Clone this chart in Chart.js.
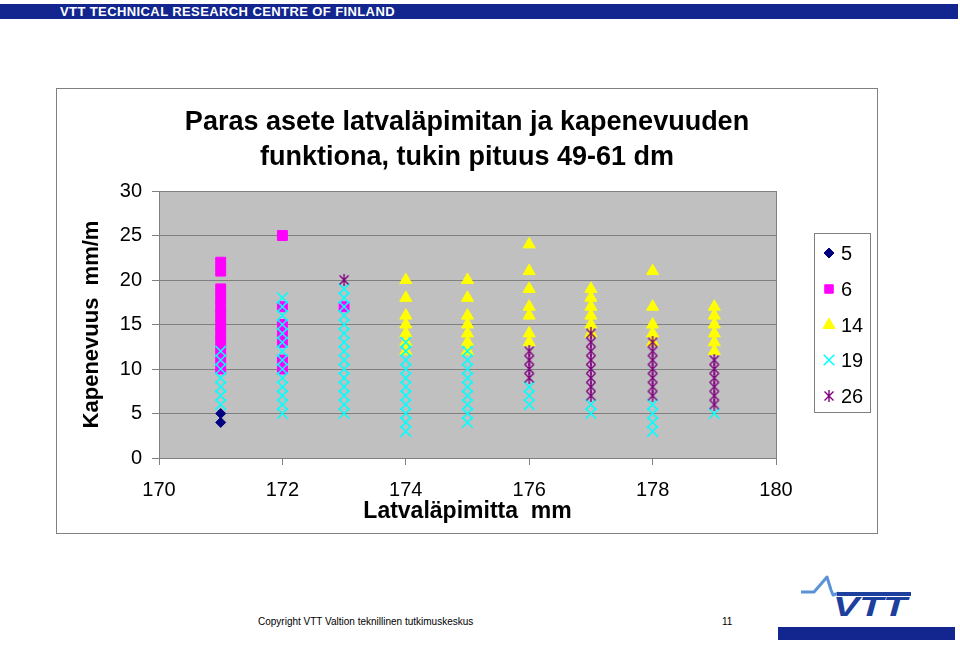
<!DOCTYPE html>
<html><head><meta charset="utf-8">
<script src="https://cdn.jsdelivr.net/npm/chart.js@4.4.1/dist/chart.umd.min.js"></script>
<style>
html,body{margin:0;padding:0;background:#fff;width:960px;height:645px;overflow:hidden;font-family:"Liberation Sans",Arial,sans-serif;}
#topbar{position:absolute;left:0;top:4px;width:958px;height:15px;background:#13268f;}
#topbar span{position:absolute;left:60px;top:0;line-height:15px;color:#fff;font-weight:bold;font-size:13px;letter-spacing:0.4px;white-space:nowrap;}
#box{position:absolute;left:56px;top:88px;width:820px;height:444px;border:1px solid #808080;background:#fff;}
#box canvas{position:absolute;left:0;top:0;}
#copy{position:absolute;left:258px;top:616px;font-size:10px;color:#000;white-space:nowrap;}
#pg{position:absolute;left:722px;top:616px;font-size:10px;color:#000;}
#botbar{position:absolute;left:778px;top:627px;width:177px;height:13px;background:#13268f;}
#logo{position:absolute;left:795px;top:570px;}
</style></head>
<body>
<div id="topbar"><span>VTT TECHNICAL RESEARCH CENTRE OF FINLAND</span></div>
<div id="box"><canvas id="c" width="820" height="444"></canvas></div>
<svg id="logo" width="130" height="50" viewBox="0 0 130 50">
  <polyline points="6,22 19,22 26,14 32,7 36,20 38,25 44,23" fill="none" stroke="#5b93d6" stroke-width="3" stroke-linejoin="round"/>
  <line x1="42" y1="24" x2="116" y2="24" stroke="#1d3f9e" stroke-width="4"/>
  <text x="38" y="46" font-family="Liberation Sans, Arial" font-weight="bold" font-style="italic" font-size="27" fill="#1d3f9e" textLength="74" lengthAdjust="spacingAndGlyphs">VTT</text>
</svg>
<div id="copy">Copyright VTT Valtion teknillinen tutkimuskeskus</div>
<div id="pg">11</div>
<div id="botbar"></div>
<script>
// ---- data ----
const seriesLabels = ['5', '6', '14', '19', '26'];
const titleLines = ['Paras asete latvaläpimitan ja kapenevuuden', 'funktiona, tukin pituus 49-61 dm'];
const xTitle = 'Latvaläpimitta  mm';
const yTitle = 'Kapenevuus  mm/m';

const s5 = [[171,5],[171,4]];
const s6 = [[171,22],[171,21],[171,19],[171,18],[171,17],[171,16],[171,15],[171,14],[171,13],[171,12],[171,11],[171,10],
            [172,25],[172,17],[172,15],[172,14],[172,13],[172,11],[172,10],
            [173,17]];
const s14 = [[174,20],[174,18],[174,16],[174,15],[174,14],[174,13],[174,12],
             [175,20],[175,18],[175,16],[175,15],[175,14],[175,13],[175,12],
             [176,24],[176,21],[176,19],[176,17],[176,16],[176,14],[176,13],
             [177,19],[177,18],[177,17],[177,16],[177,15],[177,14],
             [178,21],[178,17],[178,15],[178,14],[178,13],
             [179,17],[179,16],[179,15],[179,14],[179,13],[179,12]];
const s19 = [[171,12],[171,11],[171,10],[171,9],[171,8],[171,7],[171,6],
             [172,18],[172,17],[172,16],[172,15],[172,14],[172,13],[172,12],[172,11],[172,10],[172,9],[172,8],[172,7],[172,6],[172,5],
             [173,19],[173,18],[173,17],[173,16],[173,15],[173,14],[173,13],[173,12],[173,11],[173,10],[173,9],[173,8],[173,7],[173,6],[173,5],
             [174,13],[174,12],[174,11],[174,10],[174,9],[174,8],[174,7],[174,6],[174,5],[174,4],[174,3],
             [175,12],[175,11],[175,10],[175,9],[175,8],[175,7],[175,6],[175,5],[175,4],
             [176,8],[176,7],[176,6],
             [177,6],[177,5],
             [178,6],[178,5],[178,4],[178,3],
             [179,5]];
const s26 = [[173,20],
             [176,12],[176,11],[176,10],[176,9],
             [177,14],[177,13],[177,12],[177,11],[177,10],[177,9],[177,8],[177,7],
             [178,13],[178,12],[178,11],[178,10],[178,9],[178,8],[178,7],
             [179,11],[179,10],[179,9],[179,8],[179,7],[179,6]];
const xMin = 170, xMax = 180, xStep = 2;
const yMin = 0, yMax = 30, yStep = 5;

// ---- rendering ----
const FONT = "'Liberation Sans', Arial, sans-serif";
function pts(a){ return a.map(p => ({x: p[0], y: p[1]})); }
function makeAsterisk(color){
  const c = document.createElement('canvas'); c.width = 12; c.height = 12;
  const g = c.getContext('2d'); g.strokeStyle = color; g.lineWidth = 1.4;
  g.beginPath();
  g.moveTo(1.5,1.5); g.lineTo(10.5,10.5);
  g.moveTo(10.5,1.5); g.lineTo(1.5,10.5);
  g.moveTo(6,0); g.lineTo(6,12);
  g.stroke();
  return c;
}
const ast = makeAsterisk('#800080');

const styles = [
  {pointStyle:'rectRot', pointRadius:5, backgroundColor:'#000080', borderColor:'#000080', borderWidth:1, order:4},
  {pointStyle:'rect', pointRadius:7, backgroundColor:'#ff00ff', borderColor:'#ff00ff', borderWidth:1, order:3},
  {pointStyle:'triangle', pointRadius:7, backgroundColor:'#ffff00', borderColor:'#ffff00', borderWidth:1, order:2},
  {pointStyle:'crossRot', pointRadius:7.5, backgroundColor:'#00ffff', borderColor:'#00ffff', borderWidth:1.5, order:1},
  {pointStyle:ast, pointRadius:6, backgroundColor:'#800080', borderColor:'#800080', borderWidth:1.4, order:0}
];
const allData = [s5, s6, s14, s19, s26];

const datasets = allData.map((d, i) => Object.assign({
  label: seriesLabels[i], data: pts(d), showLine: false, pointHoverRadius: styles[i].pointRadius
}, styles[i]));

const plotDeco = {
  id: 'plotDeco',
  beforeDraw(chart){
    const {ctx, chartArea: a} = chart;
    ctx.save(); ctx.fillStyle = '#c0c0c0';
    ctx.fillRect(a.left, a.top, a.right - a.left, a.bottom - a.top);
    ctx.restore();
  },
  beforeDatasetsDraw(chart){
    const {ctx, chartArea: a} = chart;
    ctx.save(); ctx.strokeStyle = '#808080'; ctx.lineWidth = 1;
    const x = Math.round(a.right) + 0.5;
    ctx.beginPath(); ctx.moveTo(x, a.top); ctx.lineTo(x, a.bottom); ctx.stroke();
    ctx.restore();
  }
};

const boxLegend = {
  id: 'boxLegend',
  afterDraw(chart){
    const ctx = chart.ctx;
    const bx = 757, by = 144, bw = 56, bh = 179;
    ctx.save();
    ctx.strokeStyle = '#808080'; ctx.lineWidth = 1;
    ctx.strokeRect(bx + 0.5, by + 0.5, bw, bh);
    const ys = [164, 200, 236, 271, 307];
    ctx.font = '20px ' + FONT; ctx.textBaseline = 'middle'; ctx.textAlign = 'left'; ctx.fillStyle = '#000';
    chart.data.datasets.forEach((ds, i) => {
      const st = styles[i];
      ctx.save();
      ctx.fillStyle = st.backgroundColor; ctx.strokeStyle = st.borderColor; ctx.lineWidth = st.borderWidth;
      const r = i === 1 ? 6 : st.pointRadius;
      if (Chart.helpers && Chart.helpers.drawPoint) {
        Chart.helpers.drawPoint(ctx, {pointStyle: st.pointStyle, rotation: 0, radius: r, borderWidth: st.borderWidth}, 772, ys[i]);
      }
      ctx.restore();
      ctx.fillText(ds.label, 784, ys[i] + 1);
    });
    ctx.restore();
  }
};

new Chart(document.getElementById('c'), {
  type: 'scatter',
  data: { datasets },
  plugins: [plotDeco, boxLegend],
  options: {
    responsive: false, animation: false, events: [],
    layout: { padding: 0 },
    plugins: {
      legend: { display: false },
      tooltip: { enabled: false },
      title: {
        display: true, text: titleLines, color: '#000',
        font: { family: FONT, size: 27, weight: 'bold', lineHeight: 1.3 },
        padding: { top: 15.5, bottom: 16.3 }
      }
    },
    scales: {
      x: {
        type: 'linear', position: 'bottom', min: xMin, max: xMax,
        afterFit: s => { s.height = 75; },
        ticks: { stepSize: xStep, color: '#000', font: { family: FONT, size: 20 }, padding: 13, maxRotation: 0 },
        grid: { display: true, drawOnChartArea: false, drawTicks: true, tickLength: 7, color: '#808080' },
        border: { display: true, color: '#808080' },
        title: { display: true, text: xTitle, color: '#000', font: { family: FONT, size: 23, weight: 'bold', lineHeight: 1.2 }, padding: { top: 0, bottom: 7.2 } }
      },
      y: {
        type: 'linear', position: 'left', min: yMin, max: yMax,
        afterFit: s => { s.width = 102; },
        ticks: { stepSize: yStep, color: '#000', font: { family: FONT, size: 20 }, padding: 10 },
        grid: { color: '#808080', lineWidth: 1, drawTicks: true, tickLength: 7 },
        border: { display: true, color: '#808080' },
        title: { display: true, text: yTitle, color: '#000', font: { family: FONT, size: 22, weight: 'bold', lineHeight: 1.2 }, padding: { top: 21.8, bottom: 0 } }
      },
      yr: {
        type: 'linear', position: 'right', display: true,
        afterFit: s => { s.width = 101; },
        ticks: { display: false }, grid: { display: false }, border: { display: false }
      }
    }
  }
});
</script>
</body></html>
